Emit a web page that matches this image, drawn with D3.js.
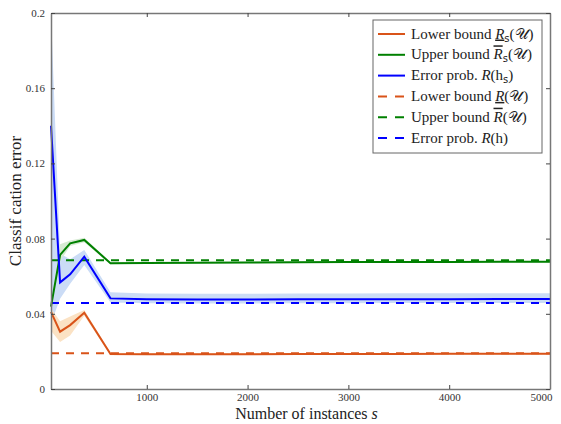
<!DOCTYPE html>
<html lang="en">
<head>
<meta charset="UTF-8">
<script src="https://cdn.jsdelivr.net/npm/d3@7/dist/d3.min.js"></script>
<style>
    body, html { margin: 0; padding: 0; background: #fff; }
    #chart { width: 561px; height: 424px; }
    svg text { font-family: "Liberation Serif", "DejaVu Serif", serif !important; fill: #222; }
</style>
</head>
<body>
<div id="chart"></div>
<script>
// data
const sVals   = [50, 140, 240, 380, 640, 1000, 1500, 2000, 2500, 3000, 3500, 4000, 4500, 5000];
const lowerS  = [0.0410, 0.0305, 0.0340, 0.0406, 0.0186, 0.0185, 0.0185, 0.0185, 0.0186, 0.0186, 0.0186, 0.0187, 0.0187, 0.0187];
const lowerLo = [0.0310, 0.0250, 0.0285, 0.0390, 0.0180, 0.0181, 0.0181, 0.0181, 0.0182, 0.0182, 0.0182, 0.0183, 0.0183, 0.0183];
const lowerHi = [0.0430, 0.0360, 0.0385, 0.0420, 0.0193, 0.0190, 0.0190, 0.0190, 0.0190, 0.0190, 0.0190, 0.0191, 0.0191, 0.0191];
const upperS  = [0.0438, 0.0713, 0.0775, 0.0793, 0.0669, 0.0670, 0.0672, 0.0673, 0.0674, 0.0675, 0.0676, 0.0676, 0.0677, 0.0677];
const upperLo = [0.0430, 0.0680, 0.0760, 0.0780, 0.0664, 0.0666, 0.0668, 0.0669, 0.0670, 0.0671, 0.0672, 0.0672, 0.0673, 0.0673];
const upperHi = [0.0450, 0.0770, 0.0790, 0.0805, 0.0675, 0.0675, 0.0676, 0.0677, 0.0678, 0.0679, 0.0680, 0.0680, 0.0681, 0.0681];
const errS    = [0.1400, 0.0567, 0.0610, 0.0704, 0.0482, 0.0478, 0.0476, 0.0476, 0.0477, 0.0477, 0.0478, 0.0478, 0.0479, 0.0479];
const errLo   = [0.0350, 0.0480, 0.0560, 0.0660, 0.0460, 0.0456, 0.0455, 0.0455, 0.0456, 0.0456, 0.0457, 0.0457, 0.0457, 0.0457];
const errHi   = [0.2000, 0.0720, 0.0690, 0.0740, 0.0515, 0.0508, 0.0507, 0.0507, 0.0508, 0.0508, 0.0509, 0.0509, 0.0509, 0.0509];
// true (full sample) values
const lowerTrue = 0.0190;
const upperTrue = 0.0685;
const errTrue   = 0.0458;

const xTicks = [1000, 2000, 3000, 4000, 5000];
const yTicks = [0, 0.04, 0.08, 0.12, 0.16, 0.2];

const C_ORANGE = "#d95319", C_GREEN = "#008000", C_BLUE = "#0000ff";

const W = 561, H = 424;
const m = {left: 51, right: 11, top: 13, bottom: 35};

const svg = d3.select("#chart").append("svg").attr("width", W).attr("height", H);

const x = d3.scaleLinear().domain([50, 5000]).range([m.left, W - m.right]);
const y = d3.scaleLinear().domain([0, 0.2]).range([H - m.bottom, m.top]);

const plot = svg.append("g");

// bands
const bands = [
    {lo: errLo, hi: errHi, color: "#cbdcf6"},
    {lo: lowerLo, hi: lowerHi, color: "#fbe2c4"},
    {lo: upperLo, hi: upperHi, color: "#d6ead2"}
];
const area = d3.area().x(d => x(d.s)).y0(d => y(d.lo)).y1(d => y(d.hi));
bands.forEach(b => {
    plot.append("path")
        .datum(sVals.map((s, i) => ({s: s, lo: b.lo[i], hi: b.hi[i]})))
        .attr("d", area).attr("fill", b.color).attr("stroke", "none");
});

// dashed horizontal lines (full sample)
const dash = "8,7";
[[lowerTrue, C_ORANGE], [upperTrue, C_GREEN], [errTrue, C_BLUE]].forEach(([v, c]) => {
    plot.append("line")
        .attr("x1", x(50)).attr("x2", x(5000)).attr("y1", y(v)).attr("y2", y(v))
        .attr("stroke", c).attr("stroke-width", 2).attr("stroke-dasharray", dash);
});

// solid lines
const line = d3.line().x(d => x(d[0])).y(d => y(d[1]));
[[lowerS, C_ORANGE], [upperS, C_GREEN], [errS, C_BLUE]].forEach(([vals, c]) => {
    plot.append("path")
        .datum(sVals.map((s, i) => [s, vals[i]]))
        .attr("d", line).attr("fill", "none").attr("stroke", c).attr("stroke-width", 2);
});

// axes (box with inward ticks)
const axisColor = "#777";
const tl = 4;
const axB = svg.append("g").attr("transform", `translate(0,${H - m.bottom})`)
    .call(d3.axisBottom(x).tickValues(xTicks).tickSizeInner(-tl).tickSizeOuter(0).tickPadding(4)
        .tickFormat(d => String(d)));
const axT = svg.append("g").attr("transform", `translate(0,${m.top})`)
    .call(d3.axisTop(x).tickValues(xTicks).tickSizeInner(-tl).tickSizeOuter(0).tickFormat(""));
const axL = svg.append("g").attr("transform", `translate(${m.left},0)`)
    .call(d3.axisLeft(y).tickValues(yTicks).tickSizeInner(-tl).tickSizeOuter(0).tickPadding(6)
        .tickFormat(d => String(+d.toFixed(2))));
const axR = svg.append("g").attr("transform", `translate(${W - m.right},0)`)
    .call(d3.axisRight(y).tickValues(yTicks).tickSizeInner(-tl).tickSizeOuter(0).tickFormat(""));
[axB, axT, axL, axR].forEach(a => {
    a.select(".domain").attr("stroke", axisColor).attr("stroke-width", 1.5);
    a.selectAll(".tick line").attr("stroke", "#444");
    a.selectAll("text").attr("font-size", 11).style("fill", "#333");
});
// last x label right-aligned so it stays inside the picture
axB.selectAll(".tick text").filter(d => d === 5000).attr("text-anchor", "end").attr("x", 2);

// axis labels
svg.append("text")
    .attr("x", (m.left + W - m.right) / 2 + 6).attr("y", 419)
    .attr("text-anchor", "middle").attr("font-size", 16)
    .html('Number of instances <tspan font-style="italic">s</tspan>');
svg.append("text")
    .attr("transform", `translate(21,${(m.top + H - m.bottom) / 2}) rotate(-90)`)
    .attr("text-anchor", "middle").attr("font-size", 17)
    .text("Classif cation error");

// legend
const legend = [
    {pre: "Lower bound ", deco: "underline", sub: "s", arg: "𝒰", color: C_ORANGE, dashed: false},
    {pre: "Upper bound ", deco: "overline", sub: "s", arg: "𝒰", color: C_GREEN, dashed: false},
    {pre: "Error prob. ", deco: "none", sub: null, arg: "h", color: C_BLUE, dashed: false, hs: true},
    {pre: "Lower bound ", deco: "underline", sub: null, arg: "𝒰", color: C_ORANGE, dashed: true},
    {pre: "Upper bound ", deco: "overline", sub: null, arg: "𝒰", color: C_GREEN, dashed: true},
    {pre: "Error prob. ", deco: "none", sub: null, arg: "h", color: C_BLUE, dashed: true}
];
const lg = svg.append("g");
lg.append("rect").attr("x", 373).attr("y", 20).attr("width", 169).attr("height", 133)
    .attr("fill", "#fff").attr("stroke", "#666").attr("stroke-width", 1);
legend.forEach((d, i) => {
    const yy = 34 + i * 20.8;
    lg.append("line").attr("x1", 378).attr("x2", 405).attr("y1", yy).attr("y2", yy)
        .attr("stroke", d.color).attr("stroke-width", 2)
        .attr("stroke-dasharray", d.dashed ? "9,8" : null);
    const t = lg.append("text").attr("x", 411).attr("y", yy + 4.5).attr("font-size", 15);
    t.append("tspan").text(d.pre);
    t.append("tspan").attr("font-style", "italic")
        .style("text-decoration", d.deco === "none" ? null : d.deco).text("R");
    if (d.sub) {
        t.append("tspan").style("font-family", "DejaVu Sans, sans-serif").attr("font-size", 10)
            .attr("dy", 3).text(d.sub);
        t.append("tspan").attr("dy", -3).text("(");
    } else {
        t.append("tspan").text("(");
    }
    if (d.hs) {
        t.append("tspan").text("h");
        t.append("tspan").style("font-family", "DejaVu Sans, sans-serif").attr("font-size", 10)
            .attr("dy", 3).text("s");
        t.append("tspan").attr("dy", -3).text(")");
    } else {
        t.append("tspan").text(d.arg);
        t.append("tspan").text(")");
    }
});
</script>
</body>
</html>
